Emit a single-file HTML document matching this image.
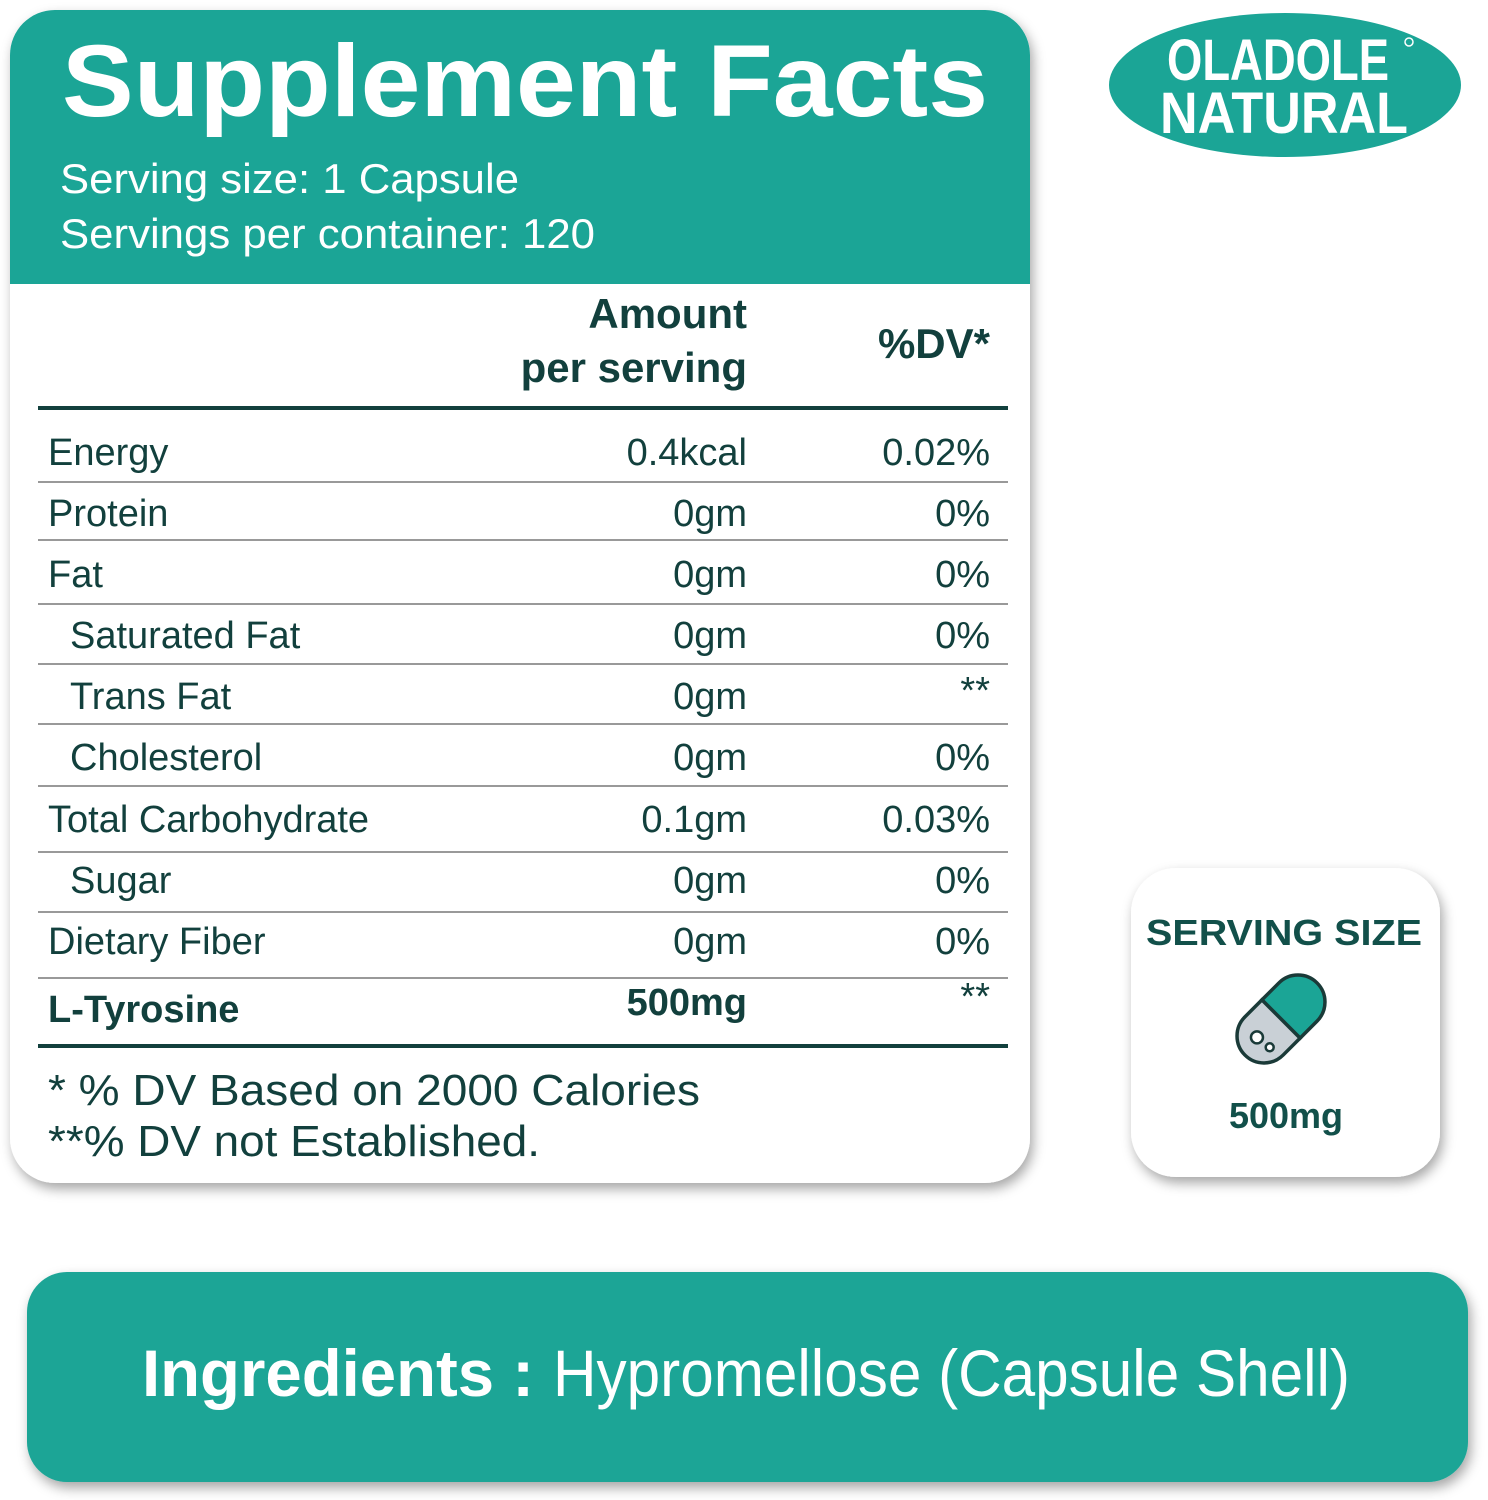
<!DOCTYPE html>
<html><head><meta charset="utf-8"><style>
html,body{margin:0;padding:0;background:#fff;}
svg{display:block;}
text{font-family:"Liberation Sans",sans-serif;}
</style></head><body>
<svg width="1488" height="1500" viewBox="0 0 1488 1500" xmlns="http://www.w3.org/2000/svg">
<defs>
<filter id="sh" x="-10%" y="-10%" width="120%" height="125%"><feDropShadow dx="3" dy="6" stdDeviation="6" flood-color="#000" flood-opacity="0.35"/></filter>
<clipPath id="cc"><rect x="10" y="10" width="1020" height="1173" rx="45"/></clipPath>
</defs>
<rect x="10" y="10" width="1020" height="1173" rx="45" fill="#fff" filter="url(#sh)"/>
<g clip-path="url(#cc)"><rect x="10" y="10" width="1020" height="274" fill="#1ba596"/></g>
<text x="62" y="116" font-size="102" font-weight="bold" fill="#fff" textLength="926" lengthAdjust="spacingAndGlyphs">Supplement Facts</text>
<text x="60" y="193" font-size="42" fill="#fff" textLength="459" lengthAdjust="spacingAndGlyphs">Serving size: 1 Capsule</text>
<text x="60" y="248" font-size="42" fill="#fff" textLength="535" lengthAdjust="spacingAndGlyphs">Servings per container: 120</text>
<g fill="#12403d" font-weight="bold" font-size="42" text-anchor="end">
<text x="747" y="328">Amount</text>
<text x="747" y="382">per serving</text>
<text x="990" y="358">%DV*</text>
</g>
<rect x="38" y="406" width="970" height="4" fill="#12403d"/>
<g fill="#999">
<rect x="38" y="481" width="970" height="2"/>
<rect x="38" y="539" width="970" height="2"/>
<rect x="38" y="603" width="970" height="2"/>
<rect x="38" y="663" width="970" height="2"/>
<rect x="38" y="723" width="970" height="2"/>
<rect x="38" y="785" width="970" height="2"/>
<rect x="38" y="851" width="970" height="2"/>
<rect x="38" y="911" width="970" height="2"/>
<rect x="38" y="977" width="970" height="2"/>
</g>
<rect x="38" y="1044" width="970" height="4" fill="#12403d"/>
<g fill="#12403d" font-size="38">
<text x="48" y="465">Energy</text>
<text x="48" y="526">Protein</text>
<text x="48" y="587">Fat</text>
<text x="70" y="648">Saturated Fat</text>
<text x="70" y="709">Trans Fat</text>
<text x="70" y="770">Cholesterol</text>
<text x="48" y="832">Total Carbohydrate</text>
<text x="70" y="893">Sugar</text>
<text x="48" y="954">Dietary Fiber</text>
<text x="48" y="1022" font-weight="bold">L-Tyrosine</text>
<g text-anchor="end">
<text x="747" y="465">0.4kcal</text><text x="990" y="465">0.02%</text>
<text x="747" y="526">0gm</text><text x="990" y="526">0%</text>
<text x="747" y="587">0gm</text><text x="990" y="587">0%</text>
<text x="747" y="648">0gm</text><text x="990" y="648">0%</text>
<text x="747" y="709">0gm</text><text x="990" y="703">**</text>
<text x="747" y="770">0gm</text><text x="990" y="770">0%</text>
<text x="747" y="832">0.1gm</text><text x="990" y="832">0.03%</text>
<text x="747" y="893">0gm</text><text x="990" y="893">0%</text>
<text x="747" y="954">0gm</text><text x="990" y="954">0%</text>
<text x="747" y="1015" font-weight="bold">500mg</text><text x="990" y="1009">**</text>
</g>
</g>
<g fill="#12403d" font-size="44">
<text x="48" y="1105" textLength="652" lengthAdjust="spacingAndGlyphs">* % DV Based on 2000 Calories</text>
<text x="48" y="1156" textLength="492" lengthAdjust="spacingAndGlyphs">**% DV not Established.</text>
</g>
<ellipse cx="1285" cy="85" rx="176" ry="72" fill="#1ba596"/>
<g fill="#fff" font-size="58" font-weight="bold" text-anchor="middle">
<text x="1278" y="80" textLength="222" lengthAdjust="spacingAndGlyphs">OLADOLE</text>
<text x="1284" y="133" textLength="248" lengthAdjust="spacingAndGlyphs">NATURAL</text>
</g>
<circle cx="1409" cy="42" r="4" fill="none" stroke="#fff" stroke-width="1.5"/>
<rect x="1131" y="868" width="309" height="309" rx="45" fill="#fff" filter="url(#sh)"/>
<text x="1284" y="945" font-size="36" font-weight="bold" fill="#12504a" text-anchor="middle" textLength="276" lengthAdjust="spacingAndGlyphs">SERVING SIZE</text>
<g transform="translate(1281,1019) rotate(-45)">
<path d="M0,-27 H24 A27,27 0 0 1 24,27 H0 Z" fill="#1ba596" stroke="#1a3a38" stroke-width="3.5"/>
<path d="M0,-27 H-24 A27,27 0 0 0 -24,27 H0 Z" fill="#c9d0d6" stroke="#1a3a38" stroke-width="3.5"/>
<circle cx="-30" cy="-4" r="6" fill="#fff" stroke="#1a3a38" stroke-width="2.5"/>
<circle cx="-28" cy="12" r="4" fill="#fff" stroke="#1a3a38" stroke-width="2.5"/>
</g>
<text x="1286" y="1128" font-size="36" font-weight="bold" fill="#12504a" text-anchor="middle">500mg</text>
<rect x="27" y="1272" width="1441" height="210" rx="40" fill="#1ba596" filter="url(#sh)"/>
<text x="142" y="1396" font-size="66" font-weight="bold" fill="#fff" textLength="392" lengthAdjust="spacingAndGlyphs">Ingredients :</text>
<text x="553" y="1396" font-size="66" fill="#fff" textLength="797" lengthAdjust="spacingAndGlyphs">Hypromellose (Capsule Shell)</text>
</svg>
</body></html>
